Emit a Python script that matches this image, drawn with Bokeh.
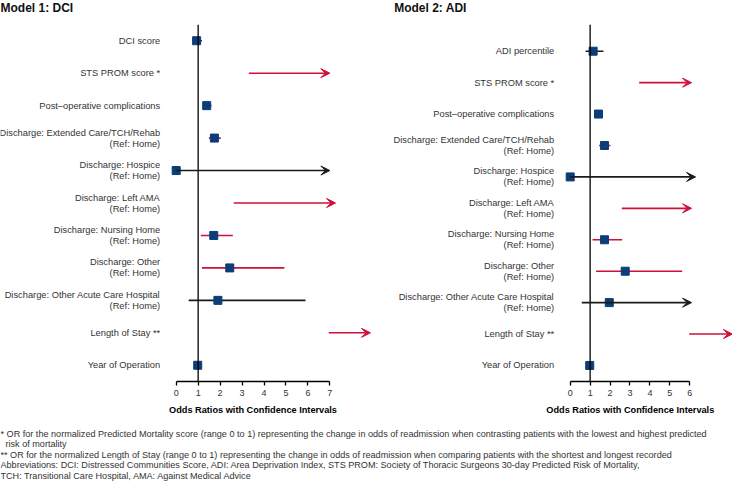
from bokeh.plotting import figure
from bokeh.models import ColumnDataSource, Range1d, FixedTicker, Span, Arrow, VeeHead, LabelSet
from bokeh.layouts import column, row
from bokeh.embed import file_html
from bokeh.resources import INLINE
from bokeh.core.properties import value

nan = float("nan")

# ---------------- data ----------------
title_1 = "Model 1: DCI"
title_2 = "Model 2: ADI"

labels_1 = [
    "DCI score",
    "STS PROM score *",
    "Post\u2013operative complications",
    "Discharge: Extended Care/TCH/Rehab\n(Ref: Home)",
    "Discharge: Hospice\n(Ref: Home)",
    "Discharge: Left AMA\n(Ref: Home)",
    "Discharge: Nursing Home\n(Ref: Home)",
    "Discharge: Other\n(Ref: Home)",
    "Discharge: Other Acute Care Hospital\n(Ref: Home)",
    "Length of Stay **",
    "Year of Operation",
]
labels_2 = ["ADI percentile"] + labels_1[1:]

# odds ratio, lower CI, upper CI (upper = drawn end when CI runs off the axis)
or_1 = [0.93, nan, 1.39, 1.74, 0.00, nan, 1.71, 2.44, 1.90, nan, 0.98]
lo_1 = [0.75, 3.31, 1.21, 1.49, 0.00, 2.62, 1.12, 1.17, 0.57, 6.95, 0.95]
hi_1 = [1.17, 7.00, 1.61, 2.03, 7.00, 7.26, 2.58, 4.93, 5.89, 8.85, 1.01]
off_1 = [False, True, False, False, True, True, False, False, False, True, False]
sig_1 = [False, True, True, True, False, True, True, True, False, True, False]

or_2 = [1.15, nan, 1.42, 1.72, 0.00, nan, 1.72, 2.76, 1.96, nan, 0.98]
lo_2 = [0.77, 3.46, 1.22, 1.45, 0.00, 2.59, 1.12, 1.30, 0.58, 5.97, 0.95]
hi_2 = [1.67, 6.09, 1.64, 2.02, 6.29, 6.09, 2.61, 5.62, 6.09, 8.14, 1.01]
off_2 = [False, True, False, False, True, True, False, False, True, True, False]
sig_2 = [False, True, True, True, False, True, True, True, False, True, False]

xticks_1 = [0, 1, 2, 3, 4, 5, 6, 7]
xticks_2 = [0, 1, 2, 3, 4, 5, 6]
x_title = "Odds Ratios with Confidence Intervals"

footnotes = [
    "* OR for the normalized Predicted Mortality score (range 0 to 1) representing the change in odds of readmission when contrasting patients with the lowest and highest predicted",
    "risk of mortality",
    "** OR for the normalized Length of Stay (range 0 to 1) representing the change in odds of readmission when comparing patients with the shortest and longest recorded",
    "Abbreviations: DCI: Distressed Communities Score, ADI: Area Deprivation Index, STS PROM: Society of Thoracic Surgeons 30-day Predicted Risk of Mortality,",
    "TCH: Transitional Care Hospital, AMA: Against Medical Advice",
]
footnote_indent = [0, 5, 0, 0, 0]

# ---------------- style ----------------
RED = "#cf1039"
BLACK = "#1a1a1a"
NAVY = "#0b3d78"
TXT = "#333333"
FONT = "Arial"
TOP_H = 24
PANEL_H = 378
W = 732
H = 484


def panel(labels, est, lo, hi, off, sig, ticks, width, x_start, x_end,
          y_bottom, y_top, label_dx):
    p = figure(width=width, height=PANEL_H, x_range=Range1d(x_start, x_end),
               y_range=Range1d(y_bottom, y_top), y_axis_location=None,
               output_backend="svg", toolbar_location=None,
               min_border_left=0, min_border_right=0,
               min_border_top=0, min_border_bottom=21)
    p.outline_line_color = None
    p.grid.visible = False

    n = len(labels)
    ys = list(range(n))
    cols = [RED if s else BLACK for s in sig]

    p.add_layout(Span(location=1, dimension="height", line_color="black", line_width=1.3))

    keep = [i for i in range(n) if not off[i]]
    seg = ColumnDataSource(dict(y=[ys[i] for i in keep], lo=[lo[i] for i in keep],
                                hi=[hi[i] for i in keep], c=[cols[i] for i in keep]))
    p.segment(x0="lo", x1="hi", y0="y", y1="y", line_color="c", line_width=1.6, source=seg)

    for col in (RED, BLACK):
        idx = [i for i in range(n) if off[i] and cols[i] == col]
        if not idx:
            continue
        src = ColumnDataSource(dict(x0=[lo[i] for i in idx], x1=[hi[i] for i in idx],
                                    y=[ys[i] for i in idx]))
        p.add_layout(Arrow(end=VeeHead(size=9, fill_color=col, line_color=col, line_width=1),
                           x_start="x0", y_start="y", x_end="x1", y_end="y",
                           line_color=col, line_width=1.6, source=src))

    p.scatter(x=est, y=ys, marker="square", size=8, fill_color=NAVY, line_color=NAVY)

    ax = p.xaxis[0]
    ax.bounds = (ticks[0], ticks[-1])
    ax.ticker = FixedTicker(ticks=ticks)
    ax.axis_line_color = "black"
    ax.axis_line_width = 1.3
    ax.major_tick_in = 0
    ax.major_tick_out = 4
    ax.major_tick_line_color = "black"
    ax.major_tick_line_width = 1.3
    ax.minor_tick_line_color = None
    ax.major_label_text_font = FONT
    ax.major_label_text_font_size = "9px"
    ax.major_label_text_color = TXT
    ax.major_label_standoff = 4

    # row labels
    lx, ly, lt, ld = [], [], [], []
    for i, lab in enumerate(labels):
        parts = lab.split("\n")
        m = len(parts)
        for k, part in enumerate(parts):
            lx.append(0)
            ly.append(ys[i])
            lt.append(part)
            ld.append(((m - 1) / 2 - k) * 11)
    p.add_layout(LabelSet(x="x", y="y", text="t", y_offset="d", x_offset=label_dx,
                          source=ColumnDataSource(dict(x=lx, y=ly, t=lt, d=ld)),
                          text_align="right", text_baseline="middle",
                          text_font=value(FONT), text_font_size="9.3px", text_color=TXT))
    return p


def text_strip(height):
    f = figure(width=W, height=height, x_range=Range1d(0, W), y_range=Range1d(height, 0),
               x_axis_location=None, y_axis_location=None, output_backend="svg",
               toolbar_location=None, min_border=0)
    f.outline_line_color = None
    f.grid.visible = False
    return f


# titles strip
top = text_strip(TOP_H)
top.add_layout(LabelSet(x="x", y="y", text="t",
                        source=ColumnDataSource(dict(x=[0, 393.7], y=[7, 7],
                                                     t=[title_1, title_2])),
                        text_align="left", text_baseline="middle", text_font=value(FONT),
                        text_font_size="12px", text_font_style="bold", text_color="#111111"))

# left panel: 0 at x=175.7px, 21.95 px per unit, width 372
p1 = panel(labels_1, or_1, lo_1, hi_1, off_1, sig_1, xticks_1,
           width=372, x_start=-175.7 / 21.95, x_end=(372 - 175.7) / 21.95,
           y_bottom=10.5, y_top=-0.5, label_dx=-16)
# right panel: 0 at x=569.7px (197.7 inside), 19.93 px per unit, width 360
p2 = panel(labels_2, or_2, lo_2, hi_2, off_2, sig_2, xticks_2,
           width=360, x_start=-197.7 / 19.93, x_end=(360 - 197.7) / 19.93,
           y_bottom=10.51, y_top=-0.85, label_dx=-16)

fn_h = H - TOP_H - PANEL_H
fn = text_strip(fn_h)
fn.add_layout(LabelSet(x="x", y="y", text="t",
                       source=ColumnDataSource(dict(x=[252.5, 629.8], y=[7, 7],
                                                    t=[x_title, x_title])),
                       text_align="center", text_baseline="middle", text_font=value(FONT),
                       text_font_size="9.2px", text_font_style="bold", text_color="black"))
fn.add_layout(LabelSet(x="x", y="y", text="t",
                       source=ColumnDataSource(dict(x=footnote_indent,
                                                    y=[31 + 10.5 * i for i in range(len(footnotes))],
                                                    t=footnotes)),
                       text_align="left", text_baseline="middle", text_font=value(FONT),
                       text_font_size="9.1px", text_color=TXT))

layout = column(top, row(p1, p2), fn)
open("out.html", "w").write(file_html(layout, INLINE))
